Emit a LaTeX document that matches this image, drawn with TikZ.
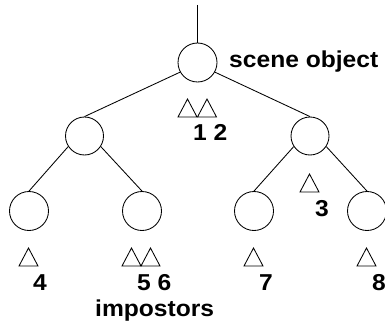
\documentclass[tikz,border=0pt]{standalone}
\usepackage{fontspec}
\setmainfont{Liberation Sans}
\newfontfamily\lblfont[FakeStretch=1.07]{Liberation Sans Bold}
\begin{document}
\begin{tikzpicture}[x=1pt,y=-1pt,
  nd/.style={circle,draw,line width=0.85pt,inner sep=0pt,minimum size=38pt},
  edge/.style={line width=0.85pt},
  lbl/.style={inner sep=0pt,anchor=base west,font=\fontsize{23}{23}\lblfont},
  tri/.style={line width=0.85pt,line join=miter}]
\useasboundingbox (0,0) rectangle (385,326);
\node[nd,minimum size=39pt] (root) at (197.5,62.5) {};
\node[nd] (l) at (84.5,136) {};
\node[nd] (r) at (310,136) {};
\node[nd,minimum size=39pt] (ll) at (29,211) {};
\node[nd,minimum size=39pt] (lr) at (142,211) {};
\node[nd,minimum size=39pt] (rl) at (254,211) {};
\node[nd,minimum size=39pt] (rr) at (367,211) {};
\coordinate (top) at (197.5,5);
\draw[edge] (top) -- (root.north);
\draw[edge] (root.209) -- (l.north);
\draw[edge] (root.331) -- (r.north);
\draw[edge] (l.213) -- (ll.north);
\draw[edge] (l.327) -- (lr.north);
\draw[edge] (r.213) -- (rl.north);
\draw[edge] (r.327) -- (rr.north);
% triangles
\foreach \x/\y in {178/117,197.5/117,300/192,19/266,122/266,141/266,244/266,357/266}
  \draw[tri] (\x,\y) -- ++(19,0) -- ++(-9.5,-18) -- cycle;
\node[lbl] (t12) at (193,140) {1 2};
\node[lbl] (t3) at (315,216) {3};
\node[lbl] (t4) at (33,290) {4};
\node[lbl] (t56) at (137,290) {5 6};
\node[lbl] (t7) at (259,290) {7};
\node[lbl] (t8) at (372,290) {8};
\node[lbl] (so) at (229,68) {scene object};
\node[lbl] (imp) at (95,316) {impostors};
\end{tikzpicture}
\end{document}
